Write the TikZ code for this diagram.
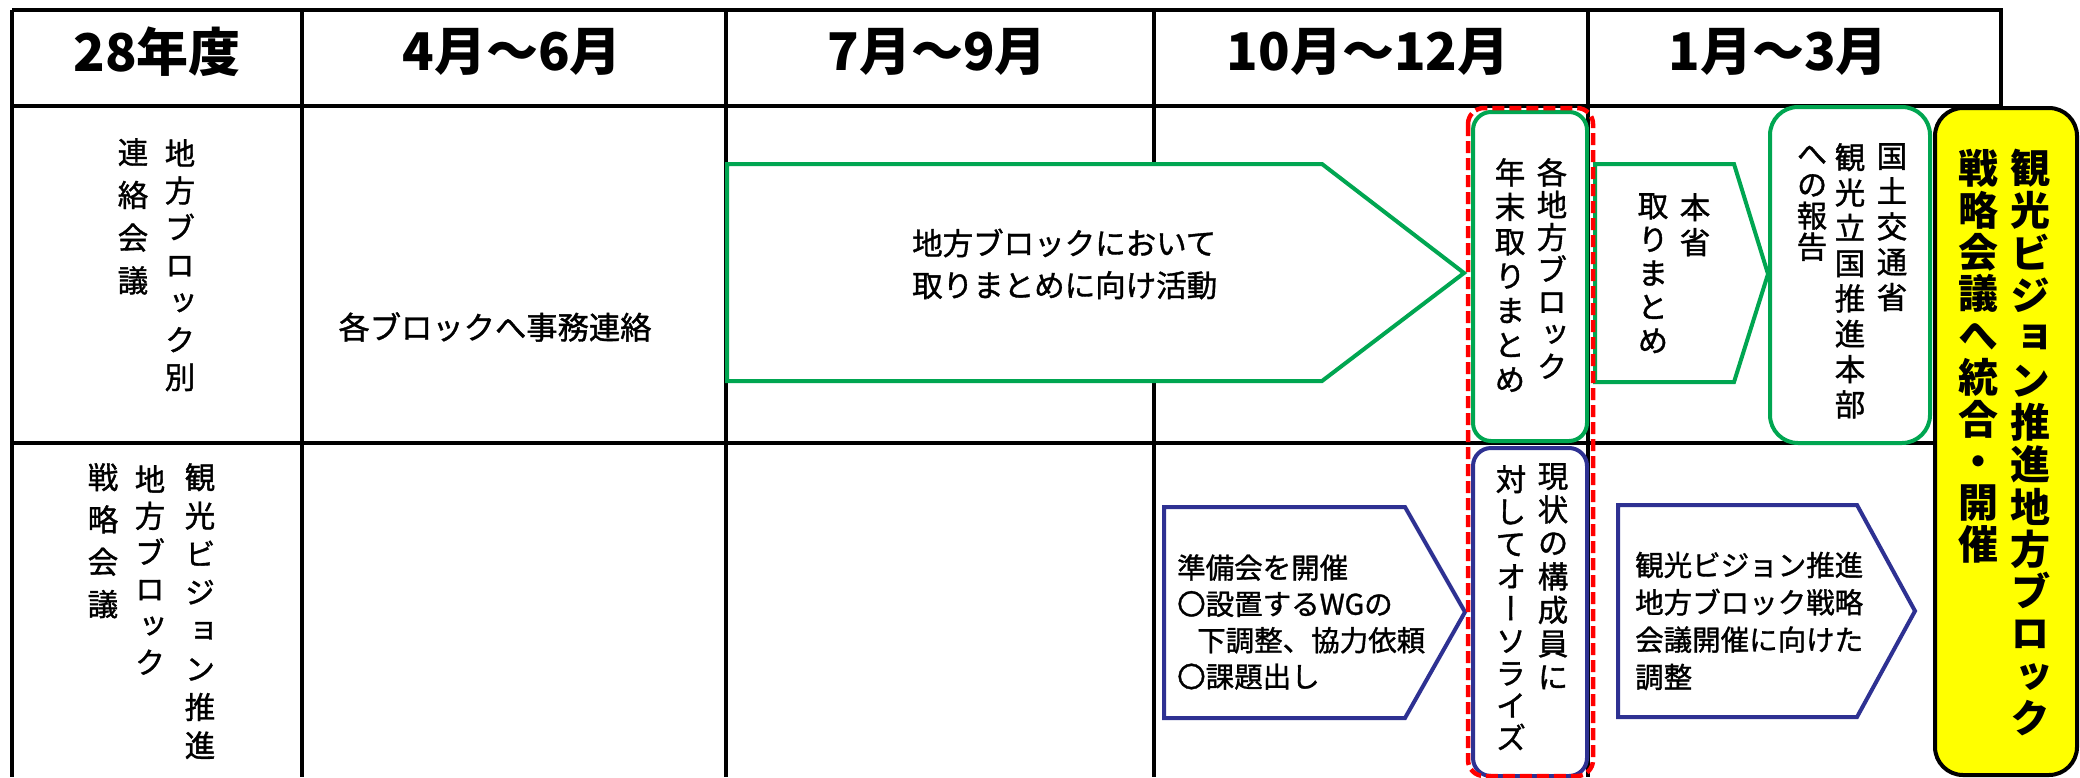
\documentclass[tikz,border=0pt]{standalone}
\usepackage{fontspec}
\newfontfamily\jp{Noto Sans CJK JP}[FakeBold=1.2]
\newfontfamily\jpb{Noto Sans CJK JP}
\newfontfamily\vjp{Noto Sans CJK JP}[RawFeature=+vert,FakeBold=1.2]
\newfontfamily\vjpb{Noto Sans CJK JP}[RawFeature=+vert]
\definecolor{grn}{RGB}{0,166,81}
\definecolor{nav}{RGB}{46,49,146}
\definecolor{ylw}{RGB}{255,255,0}
\newcommand\vf[2]{\vjp\fontsize{#1}{#2}\selectfont\lineskiplimit=-100pt\lineskip=0pt}
\newcommand\vfb[2]{\vjpb\bfseries\fontsize{#1}{#2}\selectfont\lineskiplimit=-100pt\lineskip=0pt}
\newcommand\hf[2]{\jp\fontsize{#1}{#2}\selectfont\lineskiplimit=-100pt\lineskip=0pt}
\begin{document}
\begin{tikzpicture}[x=1pt,y=-1pt,
  grid/.style={line width=3.5pt,black},
  garrow/.style={draw=grn,line width=4pt,fill=white,line join=miter},
  barrow/.style={draw=nav,line width=4pt,fill=white,line join=miter},
  gbox/.style={draw=grn,line width=4pt,fill=white,rounded corners=#1},
  bbox/.style={draw=nav,line width=4pt,fill=white,rounded corners=#1},
  redline/.style={draw=red,line width=4.5pt,dash pattern=on 12pt off 5pt,rounded corners=16pt},
  ybox/.style={draw=black,line width=4pt,fill=ylw,rounded corners=28pt},
  hdr/.style={font=\jpb\bfseries\fontsize{52}{60}\selectfont,inner sep=0pt},
  vc/.style={anchor=north,align=center,inner sep=0pt},
  hz/.style={anchor=west,align=left,inner sep=0pt}]
\useasboundingbox (0,0) rectangle (2080,777);
\fill[white] (0,0) rectangle (2080,777);
% table grid
\draw[grid] (12,10) -- (2001,10) -- (2001,106);
\draw[grid] (12,106) -- (2001,106);
\draw[grid] (12,443) -- (1935,443);
\draw[grid] (12,10) -- (12,777);
\foreach \cx in {302,726,1154,1588} \draw[grid] (\cx,10) -- (\cx,777);
% shapes
\draw[garrow] (727,164) -- (1322,164) -- (1464,273) -- (1322,381) -- (727,381) -- cycle;
\draw[garrow] (1595,164) -- (1734,164) -- (1768,274) -- (1734,382) -- (1595,382) -- cycle;
\draw[barrow] (1164,507) -- (1405,507) -- (1465,612) -- (1405,718) -- (1164,718) -- cycle;
\draw[barrow] (1618,505) -- (1857,505) -- (1915,611) -- (1857,717) -- (1618,717) -- cycle;
\draw[gbox=18pt] (1473,112) rectangle (1587,441);
\draw[bbox=18pt] (1473,448) rectangle (1587,776);
\draw[redline] (1468,108) rectangle (1593,776);
\draw[gbox=28pt] (1770,107) rectangle (1930,443);
\draw[ybox] (1935,108) rectangle (2077,775);
% header texts
\node[hdr] (h0) at (157,52) {28年度};
\node[hdr] (h1) at (512,52) {4月～6月};
\node[hdr] (h2) at (937,52) {7月～9月};
\node[hdr] (h3) at (1368,52) {10月～12月};
\node[hdr] (h4) at (1778,52) {1月～3月};
% row labels
\node[vc,font=\vf{30.5}{37.3}] (a1) at (180,139) {地\\方\\ブ\\ロ\\ッ\\ク\\別};
\node[vc,font=\vf{30.5}{42.7}] (a2) at (133,138) {連\\絡\\会\\議};
\node[vc,font=\vf{30.5}{38.3}] (b1) at (200,463) {観\\光\\ビ\\ジ\\ョ\\ン\\推\\進};
\node[vc,font=\vf{30.5}{36.6}] (b2) at (150,465) {地\\方\\ブ\\ロ\\ッ\\ク};
\node[vc,font=\vf{30.5}{42.3}] (b3) at (103,463) {戦\\略\\会\\議};
% body texts
\node[inner sep=0pt,font=\hf{31.3}{36}] (t1) at (495,327) {各ブロックへ事務連絡};
\node[hz,font=\hf{30.5}{42}] (t2) at (912,264) {地方ブロックにおいて\\取りまとめに向け活動};
\node[vc,font=\vf{30.5}{32.3}] (c1) at (1552,158) {各\\地\\方\\ブ\\ロ\\ッ\\ク};
\node[vc,font=\vf{30.5}{34.5}] (c2) at (1510,158) {年\\末\\取\\り\\ま\\と\\め};
\node[vc,font=\vf{30.5}{35}] (e1) at (1695,193) {本\\省};
\node[vc,font=\vf{30.5}{33.8}] (e2) at (1653,193) {取\\り\\ま\\と\\め};
\node[vc,font=\vf{30.5}{35.3}] (f1) at (1892,143) {国\\土\\交\\通\\省};
\node[vc,font=\vf{30.5}{35.3}] (f2) at (1850,143) {観\\光\\立\\国\\推\\進\\本\\部};
\node[vc,font=\vf{30.5}{31}] (f3) at (1812,145) {へ\\の\\報\\告};
\node[vc,font=\vf{30.5}{33.5}] (d1) at (1553,463) {現\\状\\の\\構\\成\\員\\に};
\node[vc,font=\vf{30.5}{32.3}] (d2) at (1511,465) {対\\し\\て\\オ\\ー\\ソ\\ラ\\イ\\ズ};
\node[hz,font=\hf{28.5}{36.3}] (t3) at (1177,622) {準備会を開催\\〇設置するWGの\\\hspace*{20pt}下調整、協力依頼\\〇課題出し};
\node[hz,font=\hf{28.5}{37.3}] (t4) at (1635,621) {観光ビジョン推進\\地方ブロック戦略\\会議開催に向けた\\調整};
\node[vc,font=\vfb{40}{42.3}] (g1) at (2030,149) {観\\光\\ビ\\ジ\\ョ\\ン\\推\\進\\地\\方\\ブ\\ロ\\ッ\\ク};
\node[vc,font=\vfb{40}{41.8}] (g2) at (1978,149) {戦\\略\\会\\議\\へ\\統\\合\\・\\開\\催};
\end{tikzpicture}
\end{document}
